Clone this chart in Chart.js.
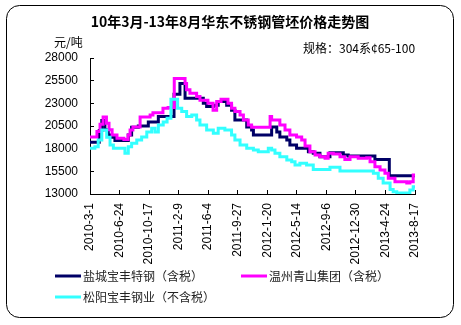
<!DOCTYPE html>
<html>
<head>
<meta charset="utf-8">
<script src="https://cdn.jsdelivr.net/npm/chart.js@4.4.0/dist/chart.umd.min.js"></script>
<style>
  html, body { margin: 0; padding: 0; background: #fff; }
</style>
</head>
<body>
<canvas id="priceChart" width="461" height="325"></canvas>
<script>
// ---------------------------------------------------------------------------
// DONNÉES (jours depuis 2010-3-1, prix en 元/吨)
// ---------------------------------------------------------------------------
const START_DATE = Date.UTC(2010, 2, 1);
const DAY_STEP = 115;      // un label tous les 115 jours
const DAY_MAX = 1265;      // 2013-8-17

const chartTitle = "10年3月-13年8月华东不锈钢管坯价格走势图";
const unitText = "元/吨";
const specText = "规格：304系¢65-100";

const yMin = 13000;
const yMax = 28000;
const yStep = 2500;

const seriesNames = ["盐城宝丰特钢（含税）", "温州青山集团（含税）", "松阳宝丰钢业（不含税）"];
const seriesColors = ["#000066", "#ff00ff", "#33ffff"];

// 盐城宝丰特钢
const ycDays = [0, 36, 46, 58, 71, 84, 97, 149, 162, 188, 227, 266, 327, 350, 370, 441, 454, 480, 499, 532,
  551, 564, 610, 629, 636, 707, 727, 739, 766, 778, 804, 850, 869, 895, 934, 986, 1005, 1109, 1165, 1265];
const ycPrices = [18700, 20000, 21100, 20100, 19500, 19250, 18900, 19500, 20350, 20500, 20950, 21550, 24000, 25200, 23550, 23000, 22650, 22800, 23200, 22800,
  22250, 21150, 20400, 20050, 19500, 20400, 19850, 19300, 18950, 18400, 18050, 17650, 17500, 17100, 17550, 17300, 17200, 16800, 15000, 15000];

// 温州青山集团
const wzDays = [0, 27, 39, 51, 64, 74, 86, 105, 132, 148, 156, 167, 195, 234, 245, 284, 304, 328, 370, 376,
  389, 415, 428, 459, 479, 493, 510, 537, 551, 564, 584, 597, 616, 629, 701, 707, 739, 759, 778, 804,
  824, 837, 856, 876, 895, 915, 927, 947, 973, 992, 1012, 1044, 1077, 1090, 1109, 1129, 1148, 1161, 1187, 1233,
  1245, 1258, 1265];
const wzPrices = [19300, 19900, 20700, 21500, 20800, 20100, 19500, 19150, 19000, 19500, 20050, 20400, 21500, 21700, 21950, 22450, 22550, 25750, 25200, 24500,
  24100, 23750, 23350, 23000, 22250, 23200, 23450, 23000, 22450, 22100, 21700, 21150, 20600, 20350, 21550, 21150, 20600, 20050, 19500, 19300,
  18950, 18300, 17650, 17300, 17100, 16950, 17500, 17400, 17100, 16800, 17100, 16950, 17000, 16550, 16000, 15650, 15300, 14750, 14350, 14200,
  14350, 15100, 15100];

// 松阳宝丰钢业
const syDays = [0, 19, 32, 46, 65, 78, 91, 136, 149, 162, 182, 201, 221, 240, 253, 266, 285, 300, 315, 341,
  357, 376, 396, 415, 428, 454, 480, 499, 525, 551, 564, 584, 610, 636, 655, 694, 707, 720, 739, 766,
  785, 798, 817, 843, 869, 934, 973, 1103, 1122, 1141, 1168, 1180, 1194, 1245, 1258, 1265];
const syPrices = [18050, 18200, 18950, 20050, 19250, 18400, 18050, 17500, 18200, 18600, 18950, 19300, 19850, 20250, 19850, 20600, 20950, 21350, 23450, 22450,
  22100, 21550, 21700, 21150, 20600, 20050, 19700, 20250, 20050, 19500, 18950, 18400, 18050, 17850, 17650, 18050, 17850, 17500, 17100, 16750,
  16550, 16200, 16400, 16200, 15700, 15950, 15550, 15300, 14750, 14200, 13500, 13250, 13100, 13450, 13800, 13800];


// ---------------------------------------------------------------------------
// OUTILS
// ---------------------------------------------------------------------------
function toPoints(days, prices) {
  return days.map((d, i) => ({ x: d, y: prices[i] }));
}

function dayLabel(v) {
  const d = new Date(START_DATE + v * 86400000);
  return d.getUTCFullYear() + "-" + (d.getUTCMonth() + 1) + "-" + d.getUTCDate();
}

const CJK = '"Noto Sans CJK SC", "Noto Sans", sans-serif';

// titre, unité, cadre arrondi et légende dessinés à la main
const decorPlugin = {
  id: "decor",
  beforeDraw(chart) {
    const ctx = chart.ctx;
    ctx.save();
    ctx.fillStyle = "#fff";
    ctx.fillRect(0, 0, chart.width, chart.height);
    ctx.strokeStyle = "#000";
    ctx.lineWidth = 1;
    ctx.beginPath();
    ctx.roundRect(6.5, 5.5, 447, 312, 13);
    ctx.stroke();
    ctx.restore();
  },
  afterDraw(chart) {
    const ctx = chart.ctx;
    ctx.save();
    ctx.fillStyle = "#000";
    ctx.textBaseline = "middle";

    ctx.font = "bold 14px " + CJK;
    ctx.textAlign = "center";
    ctx.fillText(chartTitle, 230, 22);

    ctx.font = "12px " + CJK;
    ctx.textAlign = "left";
    ctx.fillText(unitText, 54, 42);
    ctx.fillText(specText, 303, 48);

    // légende
    const slots = [[55, 276], [241, 276], [55, 297]];
    ctx.fillStyle = "#222";
    chart.data.datasets.forEach((ds, i) => {
      const [x, y] = slots[i];
      ctx.strokeStyle = ds.borderColor;
      ctx.lineWidth = 3;
      ctx.beginPath();
      ctx.moveTo(x, y);
      ctx.lineTo(x + 26, y);
      ctx.stroke();
      ctx.fillText(ds.label, x + 28, y);
    });
    ctx.restore();
  }
};


// ---------------------------------------------------------------------------
// CRÉATION DU GRAPHIQUE
// ---------------------------------------------------------------------------
const ctx = document.getElementById("priceChart").getContext("2d");

const priceChart = new Chart(ctx, {
  type: "line",
  data: {
    datasets: [
      {
        label: seriesNames[0],
        data: toPoints(ycDays, ycPrices),
        borderColor: seriesColors[0],
        order: 2
      },
      {
        label: seriesNames[1],
        data: toPoints(wzDays, wzPrices),
        borderColor: seriesColors[1],
        order: 1
      },
      {
        label: seriesNames[2],
        data: toPoints(syDays, syPrices),
        borderColor: seriesColors[2],
        order: 0
      }
    ]
  },
  options: {
    responsive: false,
    animation: false,
    devicePixelRatio: 1,
    layout: { padding: { left: 0, top: 58, right: 46, bottom: 60 } },
    elements: {
      line: { borderWidth: 3, stepped: true, fill: false, tension: 0, borderJoinStyle: "miter" },
      point: { radius: 0 }
    },
    plugins: {
      legend: { display: false },
      title: { display: false },
      tooltip: { enabled: false }
    },
    scales: {
      x: {
        type: "linear",
        min: 0,
        max: DAY_MAX,
        afterFit: (s) => { s.height = 71; },
        ticks: {
          stepSize: DAY_STEP,
          autoSkip: false,
          minRotation: 90,
          maxRotation: 90,
          padding: 13,
          color: "#000",
          font: { family: '"Liberation Sans", Arial, sans-serif', size: 12 },
          callback: (v) => dayLabel(v)
        },
        grid: { drawOnChartArea: false, tickLength: -4, color: "#000" },
        border: { color: "#000", width: 1 }
      },
      y: {
        min: yMin,
        max: yMax,
        afterFit: (s) => { s.width = 90; },
        ticks: {
          stepSize: yStep,
          padding: 16,
          color: "#000",
          font: { family: '"Liberation Sans", Arial, sans-serif', size: 12 },
          callback: (v) => String(v)
        },
        grid: { drawOnChartArea: false, tickLength: -4, color: "#000" },
        border: { color: "#000", width: 1 }
      }
    }
  },
  plugins: [decorPlugin]
});
</script>
</body>
</html>
